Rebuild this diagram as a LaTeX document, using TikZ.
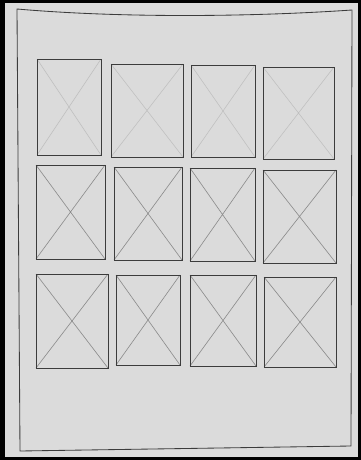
\documentclass[tikz,border=0pt]{standalone}
\definecolor{paper}{RGB}{219,219,219}
\definecolor{lead}{RGB}{60,60,60}
\begin{document}
\begin{tikzpicture}[x=0.025cm,y=-0.025cm,
    pencil/.style={draw=lead, line width=0.6pt},
    faint/.style={draw=black!25, line width=0.4pt},
    cross/.style={draw=black!45, line width=0.45pt}]
  \useasboundingbox (0,0) rectangle (361,460);
  % photo and paper
  \fill[black] (0,0) rectangle (361,460);
  \fill[paper] (5,3) rectangle (358,457);
  % page outline
  \draw[pencil] (17,9) .. controls (120,18) and (250,17) .. (352,10)
    -- (351,446) -- (20,451) -- cycle;
  % top row, crosses barely visible
  \foreach \a/\b/\c/\d in {37/59/101/155, 111/64/183/157, 191/65/255/157, 263/67/334/159} {
    \draw[faint] (\a,\b) -- (\c,\d) (\c,\b) -- (\a,\d);
    \draw[pencil] (\a,\b) rectangle (\c,\d);
  }
  % middle and bottom rows
  \foreach \a/\b/\c/\d in {36/165/105/259, 114/167/182/260, 190/168/255/261, 263/170/336/263,
                           36/274/108/368, 116/275/180/365, 190/275/256/366, 264/277/336/367} {
    \draw[cross] (\a,\b) -- (\c,\d) (\c,\b) -- (\a,\d);
    \draw[pencil] (\a,\b) rectangle (\c,\d);
  }
\end{tikzpicture}
\end{document}
